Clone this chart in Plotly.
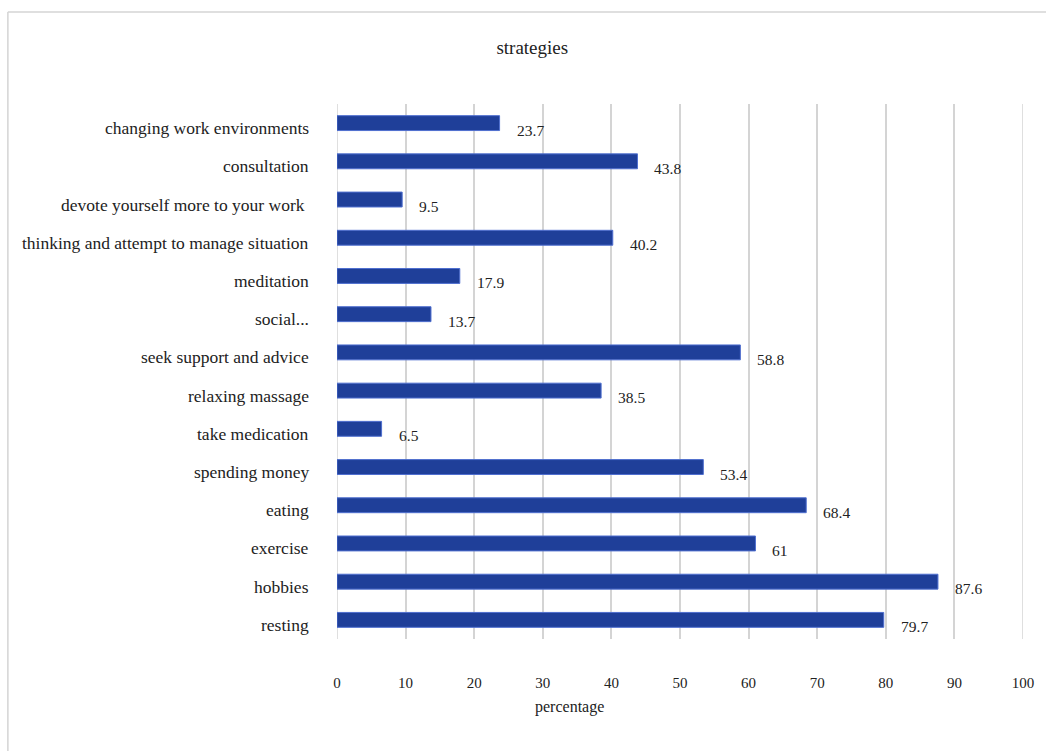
import plotly.graph_objects as go

categories = ["resting", "hobbies", "exercise", "eating", "spending money", "take medication",
              "relaxing massage", "seek support and advice", "social...", "meditation",
              "thinking and attempt to manage situation", "devote yourself more to your work ",
              "consultation", "changing work environments"]
values = [79.7, 87.6, 61, 68.4, 53.4, 6.5, 38.5, 58.8, 13.7, 17.9, 40.2, 9.5, 43.8, 23.7]
value_labels = ["79.7", "87.6", "61", "68.4", "53.4", "6.5", "38.5", "58.8", "13.7", "17.9",
                "40.2", "9.5", "43.8", "23.7"]
x_ticks = [0, 10, 20, 30, 40, 50, 60, 70, 80, 90, 100]

FONT = "Liberation Serif, Times New Roman, serif"
TXT = "#222222"
GRID = "#d4d4d4"
W, H = 1046, 751
L, R, T, B = 337, 17, 104, 112

fig = go.Figure()
fig.add_trace(go.Bar(
    y=categories, x=values, orientation="h",
    marker=dict(color="#1f3f99", line=dict(color="#4f6fcf", width=1)),
    width=0.39, hoverinfo="x+y"
))

for c, v, t in zip(categories, values, value_labels):
    fig.add_annotation(x=v, y=c, text=t, showarrow=False, xanchor="left",
                       xshift=15, yshift=-7, font=dict(family=FONT, size=15.5, color=TXT))

for c in categories:
    fig.add_annotation(x=0, xref="paper", y=c, yref="y", text=c, showarrow=False,
                       xanchor="right", xshift=-26, yshift=-5,
                       font=dict(family=FONT, size=17.5, color=TXT))

pw = W - L - R
ph = H - T - B
def px_x(p):
    return (p - L) / pw
def px_y(p):
    return 1 - (p - T) / ph

fig.add_shape(type="line", xref="paper", yref="paper",
              x0=px_x(5), x1=px_x(1060), y0=px_y(12), y1=px_y(12),
              line=dict(color=GRID, width=1.5), layer="below")
fig.add_shape(type="line", xref="paper", yref="paper",
              x0=px_x(5), x1=px_x(5), y0=px_y(12), y1=px_y(770),
              line=dict(color=GRID, width=1.5), layer="below")

fig.add_annotation(xref="paper", yref="paper", x=px_x(535), y=px_y(718), text="percentage",
                   showarrow=False, font=dict(family=FONT, size=16, color=TXT))

fig.update_layout(
    width=W, height=H,
    margin=dict(l=L, r=R, t=T, b=B),
    paper_bgcolor="white", plot_bgcolor="white",
    title=dict(text="strategies", x=px_x(534), xref="paper", xanchor="center",
               y=1 - 47 / H, yanchor="middle", font=dict(family=FONT, size=19, color=TXT)),
    font=dict(family=FONT, color=TXT),
    showlegend=False,
    xaxis=dict(range=[0, 100], tickvals=x_ticks, showgrid=True, gridcolor=GRID, gridwidth=1.5,
               zeroline=False, showline=False, ticks="", ticklabelstandoff=33,
               tickfont=dict(family=FONT, size=15, color=TXT), fixedrange=True),
    yaxis=dict(categoryorder="array", categoryarray=categories, showgrid=False, zeroline=False,
               showline=False, ticks="", showticklabels=False, range=[-0.5, 13.5],
               fixedrange=True),
)

for edge in (x_ticks[0], x_ticks[-1]):
    fig.add_shape(type="line", xref="x", yref="paper", x0=edge, x1=edge, y0=0, y1=1,
                  line=dict(color=GRID, width=1.5), layer="below")

fig.write_html("out.html", config={"displayModeBar": False},
               post_script="document.body.style.margin='0';document.body.style.overflow='hidden';")
